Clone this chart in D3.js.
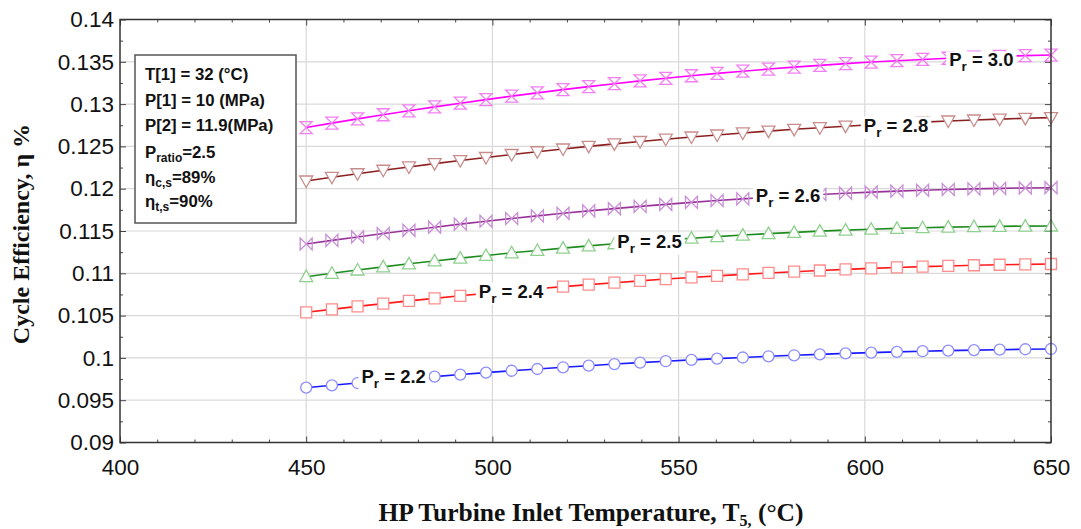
<!DOCTYPE html>
<html>
<head>
<meta charset="utf-8">
<script src="https://cdn.jsdelivr.net/npm/d3@7"></script>
<style>
  html, body { margin: 0; padding: 0; background: #fff; }
  svg { display: block; }
</style>
</head>
<body>
<svg id="chart" width="1081" height="529"></svg>
<script>
// HP turbine inlet temperature (°C), 30 parametric runs
const temps = [450, 456.90, 463.79, 470.69, 477.59, 484.48, 491.38, 498.28, 505.17, 512.07,
  518.97, 525.86, 532.76, 539.66, 546.55, 553.45, 560.34, 567.24, 574.14, 581.03,
  587.93, 594.83, 601.72, 608.62, 615.52, 622.41, 629.31, 636.21, 643.10, 650];

// Cycle efficiency for each pressure ratio
const eta30 = [0.12723, 0.12775, 0.12825, 0.12874, 0.12921, 0.12967, 0.13011, 0.13053, 0.13094, 0.13133,
  0.13171, 0.13207, 0.13241, 0.13274, 0.13305, 0.13335, 0.13363, 0.13389, 0.13414, 0.13437,
  0.13458, 0.13478, 0.13497, 0.13513, 0.13528, 0.13542, 0.13554, 0.13564, 0.13573, 0.13580];
const eta28 = [0.12091, 0.12135, 0.12177, 0.12218, 0.12257, 0.12296, 0.12333, 0.12369, 0.12404, 0.12437,
  0.12469, 0.12500, 0.12530, 0.12558, 0.12585, 0.12611, 0.12635, 0.12659, 0.12681, 0.12702,
  0.12721, 0.12739, 0.12756, 0.12772, 0.12787, 0.12800, 0.12812, 0.12822, 0.12832, 0.12840];
const eta26 = [0.11346, 0.11389, 0.11430, 0.11470, 0.11508, 0.11545, 0.11581, 0.11615, 0.11648, 0.11679,
  0.11709, 0.11738, 0.11765, 0.11791, 0.11815, 0.11838, 0.11860, 0.11880, 0.11899, 0.11916,
  0.11932, 0.11947, 0.11960, 0.11971, 0.11982, 0.11991, 0.11998, 0.12004, 0.12009, 0.12012];
const eta25 = [0.10960, 0.11000, 0.11039, 0.11076, 0.11112, 0.11146, 0.11179, 0.11211, 0.11242, 0.11270,
  0.11298, 0.11324, 0.11349, 0.11372, 0.11395, 0.11415, 0.11434, 0.11452, 0.11469, 0.11484,
  0.11498, 0.11510, 0.11521, 0.11531, 0.11539, 0.11546, 0.11551, 0.11555, 0.11558, 0.11559];
const eta24 = [0.10539, 0.10574, 0.10609, 0.10642, 0.10674, 0.10704, 0.10734, 0.10763, 0.10790, 0.10817,
  0.10842, 0.10866, 0.10889, 0.10911, 0.10932, 0.10951, 0.10970, 0.10987, 0.11004, 0.11019,
  0.11033, 0.11046, 0.11058, 0.11069, 0.11079, 0.11087, 0.11095, 0.11101, 0.11106, 0.11110];
const eta22 = [0.09648, 0.09676, 0.09703, 0.09730, 0.09755, 0.09779, 0.09803, 0.09826, 0.09848, 0.09869,
  0.09889, 0.09908, 0.09927, 0.09944, 0.09961, 0.09977, 0.09991, 0.10005, 0.10019, 0.10031,
  0.10042, 0.10053, 0.10062, 0.10071, 0.10079, 0.10086, 0.10092, 0.10097, 0.10102, 0.10105];

const ratios = ["3.0", "2.8", "2.6", "2.5", "2.4", "2.2"];

// Axis ticks
const xTickLabels = [400, 450, 500, 550, 600, 650];
const yTickLabels = [0.09, 0.095, 0.1, 0.105, 0.11, 0.115, 0.12, 0.125, 0.13, 0.135, 0.14];

// Fixed parameters shown in the info box
const infoLines = [
  { main: "T[1] = 32 (°C)" },
  { main: "P[1] = 10 (MPa)" },
  { main: "P[2] = 11.9(MPa)" },
  { main: "P", sub: "ratio", rest: "=2.5" },
  { main: "η", sub: "c,s", rest: "=89%" },
  { main: "η", sub: "t,s", rest: "=90%" }
];

// ---- styling / layout ----
const series = [
  { ratio: ratios[0], values: eta30, line: "#ff00ff", mark: "#f27ff2", shape: "hourglass", labelT: 631.3, dy: 9.5 },
  { ratio: ratios[1], values: eta28, line: "#8c1f1f", mark: "#c98c8c", shape: "triDown",  labelT: 608.4, dy: 8.3 },
  { ratio: ratios[2], values: eta26, line: "#993399", mark: "#c88fd6", shape: "bowtie",   labelT: 579.4, dy: 5.8 },
  { ratio: ratios[3], values: eta25, line: "#1f8c1f", mark: "#8fd08f", shape: "triUp",    labelT: 542.2, dy: 6.6 },
  { ratio: ratios[4], values: eta24, line: "#ff1a1a", mark: "#ff8c8c", shape: "square",   labelT: 505.0, dy: 6.4 },
  { ratio: ratios[5], values: eta22, line: "#1a1aff", mark: "#8c8cff", shape: "circle",   labelT: 473.5, dy: 3.0 }
];

const L = 120, R = 1051, T = 19.5, B = 442.5;
const svg = d3.select("#chart");
const x = d3.scaleLinear().domain([400, 650]).range([L, R]);
const y = d3.scaleLinear().domain([0.09, 0.14]).range([B, T]);

const sans = "'Liberation Sans', Arial, sans-serif";
const serif = "'Liberation Serif', 'Times New Roman', serif";

// grid
const grid = svg.append("g").attr("stroke", "#d9d9d9").attr("stroke-width", 1.2);
grid.selectAll("line.gx").data(xTickLabels.slice(1, -1)).join("line")
  .attr("x1", d => x(d)).attr("x2", d => x(d)).attr("y1", T).attr("y2", B);
grid.selectAll("line.gy").data(yTickLabels.slice(1, -1)).join("line")
  .attr("x1", L).attr("x2", R).attr("y1", d => y(d)).attr("y2", d => y(d));

// axes: ticks point inward
const xMinor = d3.range(410, 650, 10).filter(v => v % 50 !== 0);
const yMinor = d3.range(0, 20).map(i => 0.09 + 0.0025 + i * 0.0025).filter((v, i) => i % 2 === 0);

function styleAxis(g) {
  g.select(".domain").remove();
  g.selectAll(".tick line").attr("stroke", "#444");
}
svg.append("g").attr("transform", `translate(0,${B})`)
  .call(d3.axisBottom(x).tickValues(xTickLabels).tickSize(-6).tickPadding(17).tickFormat(d3.format("d")))
  .call(styleAxis)
  .selectAll("text").attr("font-family", sans).attr("font-size", 22.5).attr("fill", "#111");
svg.append("g").attr("transform", `translate(0,${B})`)
  .call(d3.axisBottom(x).tickValues(xMinor).tickSize(-3).tickFormat("")).call(styleAxis);
svg.append("g").attr("transform", `translate(0,${T})`)
  .call(d3.axisTop(x).tickValues(xTickLabels).tickSize(-6).tickFormat("")).call(styleAxis);
svg.append("g").attr("transform", `translate(0,${T})`)
  .call(d3.axisTop(x).tickValues(xMinor).tickSize(-3).tickFormat("")).call(styleAxis);

svg.append("g").attr("transform", `translate(${L},0)`)
  .call(d3.axisLeft(y).tickValues(yTickLabels).tickSize(-6).tickPadding(6).tickFormat(d => String(d)))
  .call(styleAxis)
  .selectAll("text").attr("font-family", sans).attr("font-size", 22.5).attr("fill", "#111");
svg.append("g").attr("transform", `translate(${L},0)`)
  .call(d3.axisLeft(y).tickValues(yMinor).tickSize(-3).tickFormat("")).call(styleAxis);
svg.append("g").attr("transform", `translate(${R},0)`)
  .call(d3.axisRight(y).tickValues(yTickLabels).tickSize(-6).tickFormat("")).call(styleAxis);
svg.append("g").attr("transform", `translate(${R},0)`)
  .call(d3.axisRight(y).tickValues(yMinor).tickSize(-3).tickFormat("")).call(styleAxis);

// markers
const markerPath = {
  circle: "M5.5,0A5.5,5.5 0 1,1 -5.5,0A5.5,5.5 0 1,1 5.5,0Z",
  square: "M-5.5,-5.5H5.5V5.5H-5.5Z",
  triUp: "M0,-6.5L6.5,5L-6.5,5Z",
  triDown: "M0,6.5L6.5,-5L-6.5,-5Z",
  hourglass: "M-6,-6H6L-6,6H6Z",
  bowtie: "M-6,-6V6L6,-6V6Z"
};

const lineGen = d3.line().x((d, i) => x(temps[i])).y(d => y(d));
series.forEach(s => {
  const g = svg.append("g");
  g.append("path").datum(s.values).attr("d", lineGen)
    .attr("fill", "none").attr("stroke", s.line).attr("stroke-width", 1.6);
  g.selectAll("path.m").data(s.values).join("path")
    .attr("class", "m")
    .attr("transform", (d, i) => `translate(${x(temps[i])},${y(d)})`)
    .attr("d", markerPath[s.shape])
    .attr("fill", s.shape === "hourglass" || s.shape === "bowtie" ? "none" : "#fff")
    .attr("stroke", s.mark).attr("stroke-width", 1.3);
});

// in-line series labels with a white backing that breaks the curve
const bisect = d3.bisector(d => d).left;
function valueAt(s, t) {
  const i = Math.min(Math.max(bisect(temps, t), 1), temps.length - 1);
  const f = (t - temps[i - 1]) / (temps[i] - temps[i - 1]);
  return s.values[i - 1] + f * (s.values[i] - s.values[i - 1]);
}
series.forEach(s => {
  const cx = x(s.labelT);
  const by = y(valueAt(s, s.labelT)) + s.dy;
  const g = svg.append("g");
  const rect = g.append("rect").attr("fill", "#fff");
  const t = g.append("text").attr("x", cx).attr("y", by).attr("text-anchor", "middle")
    .attr("font-family", sans).attr("font-weight", "bold").attr("font-size", 18.5).attr("fill", "#111");
  t.append("tspan").text("P");
  t.append("tspan").attr("font-size", 13.5).attr("dy", 5).text("r");
  t.append("tspan").attr("dy", -5).text(" = " + s.ratio);
  const bb = t.node().getBBox();
  rect.attr("x", bb.x - 3).attr("y", by - 15).attr("width", bb.width + 6).attr("height", 22);
});

// frame
svg.append("rect").attr("x", L).attr("y", T).attr("width", R - L).attr("height", B - T)
  .attr("fill", "none").attr("stroke", "#333").attr("stroke-width", 1.5);

// info box
svg.append("rect").attr("x", 135).attr("y", 55).attr("width", 161).attr("height", 168)
  .attr("fill", "#fff").attr("stroke", "#555").attr("stroke-width", 1.5);
const baselines = [80, 105.5, 130.5, 157.5, 182.5, 207];
infoLines.forEach((ln, i) => {
  const t = svg.append("text").attr("x", 145).attr("y", baselines[i])
    .attr("font-family", sans).attr("font-weight", "bold").attr("font-size", 16.8).attr("fill", "#111");
  t.append("tspan").text(ln.main);
  if (ln.sub) {
    t.append("tspan").attr("font-size", 12).attr("dy", 4).text(ln.sub);
    t.append("tspan").attr("dy", -4).text(ln.rest);
  }
});

// axis titles
svg.append("text").attr("transform", "translate(29,234) rotate(-90)")
  .attr("text-anchor", "middle").attr("font-family", serif).attr("font-weight", "bold")
  .attr("font-size", 24).attr("fill", "#111").text("Cycle Efficiency, η %");

const xt = svg.append("text").attr("x", 591).attr("y", 521).attr("text-anchor", "middle")
  .attr("font-family", serif).attr("font-weight", "bold").attr("font-size", 25.5).attr("fill", "#111");
xt.append("tspan").text("HP Turbine Inlet Temperature, T");
xt.append("tspan").attr("font-size", 16).attr("dy", 5).text("5,");
xt.append("tspan").attr("dy", -5).text(" (°C)");
</script>
</body>
</html>
